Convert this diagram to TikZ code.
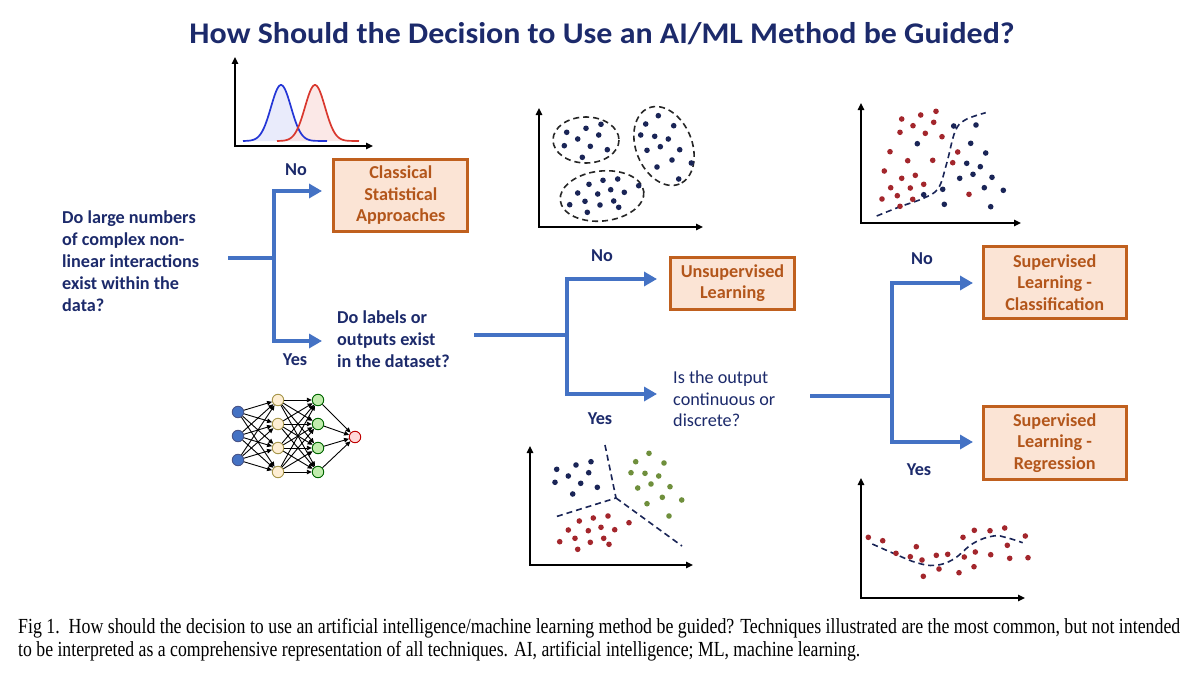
\documentclass[tikz,border=0pt]{standalone}
\usepackage{fontspec}
\usepackage{graphicx}
\newfontfamily\carl{Carlito}
\newfontfamily\capf{Liberation Serif}
\usetikzlibrary{arrows.meta}
\definecolor{tnavy}{HTML}{1C2A6B}
\definecolor{fblue}{HTML}{4472C4}
\definecolor{bbrown}{HTML}{C0601E}
\definecolor{bfill}{HTML}{FBE4D5}
\definecolor{btext}{HTML}{B3561B}
\definecolor{dnavy}{HTML}{1A2557}
\definecolor{dred}{HTML}{A3262C}
\definecolor{dgreen}{HTML}{6F8F3C}
\definecolor{cblue}{HTML}{2436D6}
\definecolor{cred}{HTML}{D9382E}
\begin{document}
\begin{tikzpicture}[x=1pt,y=-1pt,
  flow/.style={draw=fblue, line width=4pt, -{Triangle[length=13pt,width=14pt]}},
  flowline/.style={draw=fblue, line width=4pt},
  qtext/.style={font=\carl\bfseries\fontsize{18.2}{22}\selectfont, text=tnavy, align=left, anchor=north west, inner sep=0pt},
  qplain/.style={font=\carl\fontsize{18.2}{21.5}\selectfont, text=tnavy, align=left, anchor=north west, inner sep=0pt},
  lbl/.style={font=\carl\bfseries\fontsize{18.2}{21}\selectfont, text=tnavy, inner sep=0pt},
  outbox/.style={draw=bbrown, fill=bfill, line width=3pt, font=\carl\bfseries\fontsize{18.2}{21.5}\selectfont, text=btext, align=center, inner sep=0pt},
  axis/.style={line width=1.5pt, {Triangle[length=7pt,width=6.5pt]}-{Triangle[length=7pt,width=6.5pt]}},
  dashln/.style={line width=1.6pt, dash pattern=on 6pt off 4pt},
  nn/.style={circle, minimum size=11.5pt, inner sep=0pt, line width=0.9pt},
  nnedge/.style={line width=0.9pt, -{Triangle[length=5pt,width=4.5pt]}},
  dotn/.style={fill=dnavy},
  dotr/.style={fill=dred},
  dotg/.style={fill=dgreen}]
\useasboundingbox[fill=white] (0,0) rectangle (1200,685);

% title
\node[font=\carl\bfseries\fontsize{30}{36}\selectfont, text=tnavy, inner sep=0pt] (title) at (602,34) {\resizebox{825pt}{\height}{How Should the Decision to Use an AI/ML Method be Guided?}};

% ---------- distribution plot
\fill[cblue!10] (243,141) -- plot[domain=246:316,samples=60] (\x,{141-56*exp(-((\x-281)/10)^2/2)}) -- (327,141) -- cycle;
\fill[cred!14, opacity=0.8] (277,141) -- plot[domain=280:350,samples=60] (\x,{141-56*exp(-((\x-315)/10)^2/2)}) -- (359,141) -- cycle;
\draw[cblue, line width=1.7pt] (243,141) -- plot[domain=246:316,samples=60] (\x,{141-56*exp(-((\x-281)/10)^2/2)}) -- (327,141);
\draw[cred, line width=1.7pt] (277,141) -- plot[domain=280:350,samples=60] (\x,{141-56*exp(-((\x-315)/10)^2/2)}) -- (359,141);
\draw[axis] (235,57) -- (235,146) -- (373,146);

% ---------- neural net
\node[nn, fill=fblue, draw=tnavy!80] (i1) at (238,412) {};
\node[nn, fill=fblue, draw=tnavy!80] (i2) at (238,436) {};
\node[nn, fill=fblue, draw=tnavy!80] (i3) at (238,460) {};
\foreach \k/\yy in {1/400,2/424,3/448,4/472}{
  \node[nn, fill=yellow!20!orange!15!white, draw=black!45!yellow!70!brown] (h\k) at (278,\yy) {};
  \node[nn, fill=green!20!white!85!olive, draw=green!40!black] (g\k) at (318,\yy) {};
}
\node[nn, fill=red!15, draw=red!75!black] (o) at (355,437) {};
\foreach \a in {1,2,3}{\foreach \b in {1,2,3,4}{\draw[nnedge] (i\a) -- (h\b);}}
\foreach \a in {1,2,3,4}{\foreach \b in {1,2,3,4}{\draw[nnedge] (h\a) -- (g\b);}}
\foreach \a in {1,2,3,4}{\draw[nnedge] (g\a) -- (o);}

% ---------- cluster plot
\draw[axis] (539,108) -- (539,227) -- (703,227);
\draw[dashln, black!85] (586,140) ellipse [x radius=33, y radius=23];
\draw[dashln, black!85, rotate around={-68:(664,146)}] (664,146) ellipse [x radius=41, y radius=28];
\draw[dashln, black!85, rotate around={6:(602,196)}] (602,196) ellipse [x radius=42, y radius=25];
\foreach \x/\y in {566.7/132.3,586/128.3,601/124.3,577.7/139,598.7/135,564.3/145.7,590.3/146.3,607.3/149.7,582.3/157.3,
658.3/115.7,645.7/124,673.7/125.7,640.7/135,654.7/136.3,668.3/139,647/150.3,660.3/146.7,679.7/149.7,672/160,691.3/163,657/167,678.7/179,
589/184.3,603/180.3,617.7/179,638.7/185.7,577.7/193,597.7/194,610.7/189.7,624.3/192.3,569.7/204.7,585/201.3,600/205,613.7/201,587.3/212.3,618.7/207.3}
  \fill[dotn] (\x,\y) circle[radius=2.8pt];

% ---------- partition plot
\draw[axis] (530,446) -- (530,565) -- (693,565);
\coordinate (pc) at (616,498);
\draw[dashln, dnavy] (605,445) -- (pc) -- (555,517);
\draw[dashln, dnavy] (pc) -- (682,546);
\foreach \x/\y in {556.7/469.3,576/465,591/461.7,568.3/476,588.7/472.7,555/482.3,580.7/483.3,597.3/487.3,572.7/494}
  \fill[dotn] (\x,\y) circle[radius=2.8pt];
\foreach \x/\y in {649/453.3,635.7/461.7,664/463,631/472.7,645/473.3,658.7/476,637.7/488,651/484,670/486.7,662.3/497.3,681.7/500,647/503.7,669/516}
  \fill[dotg] (\x,\y) circle[radius=2.8pt];
\foreach \x/\y in {579.3/521,593.3/518,608/516,629/522.7,568.3/530,588.3/530.7,601/527.3,614.7/529.7,559.7/541.7,575/538.3,590.3/542.3,603.7/538.3,577.7/549.3,609/544.3}
  \fill[dotr] (\x,\y) circle[radius=2.8pt];

% ---------- classification plot
\draw[axis] (861,103) -- (861,223) -- (1021,223);
\draw[dashln, dnavy] plot[smooth, tension=0.6] coordinates {(876.7,216) (900,206.7) (923.3,198.3) (938.3,188.3) (946.7,163.3) (955,131.7) (965,120) (985.7,112.7)};
\foreach \x/\y in {901.7/119,920.7/115,936/111.3,913/125.7,933.7/122.3,900/132.3,925.3/133.3,942/136.7,890/151.7,907.7/160.7,932.7/160.3,957.7/152,952.7/162.7,884.3/171,901.7/178.3,915.3/175.3,890.7/187.7,910.3/188,923.7/184.3,882/199,897.3/195.7,912.7/199.3,900/206.3,969/194.3}
  \fill[dotr] (\x,\y) circle[radius=2.8pt];
\foreach \x/\y in {953.7/126,976/125,917.3/143.7,970.7/143.3,985.7/153,966.7/163.3,980.3/166.7,959.7/178.3,973/174.3,992/177.3,942.7/189.3,984.3/187.7,1003.3/190.3,923.7/194.7,944.3/204.3,990.7/206.7}
  \fill[dotn] (\x,\y) circle[radius=2.8pt];

% ---------- regression plot
\draw[axis] (861,478) -- (861,598) -- (1025,598);
\draw[dashln, dnavy] plot[smooth, tension=0.7] coordinates {(872.3,544) (895,554) (916.7,562.7) (935,565.3) (953.3,559.3) (973.3,543.3) (993.3,536) (1006.7,537.7) (1022.7,542.7)};
\foreach \x/\y in {868.3/537.3,882.7/540.7,896/553.3,910.3/556.7,916.3/546.7,922/560,923.3/576.3,936.3/555.3,939/569,947.7/554.3,959/572.7,963/537.3,964.3/557,974.3/530.3,975.3/552,974/566.7,990/530.7,990.7/554.7,1004.7/528,1007.3/545.3,1009.7/558.3,1025.3/536,1028/557.7}
  \fill[dotr] (\x,\y) circle[radius=2.8pt];

% ---------- flow texts
\node[qtext] (q1) at (62,211) {Do large numbers\\of complex non-\\linear interactions\\exist within the\\data?};
\node[qtext] (q2) at (337,311) {Do labels or\\outputs exist\\in the dataset?};
\node[qplain] (q3) at (673,371) {Is the output\\continuous or\\discrete?};

\node[lbl] (no1) at (296,170) {No};
\node[lbl] (yes1) at (295,360) {Yes};
\node[lbl] (no2) at (602,256) {No};
\node[lbl] (yes2) at (600,419) {Yes};
\node[lbl] (no3) at (922,259) {No};
\node[lbl] (yes3) at (919,470) {Yes};

\node[outbox, minimum width=134pt, minimum height=71.5pt] (c1) at (400.8,195.5) {Classical\\Statistical\\Approaches};
\node[outbox, minimum width=123.5pt, minimum height=51.7pt] (c2) at (732.5,283.3) {Unsupervised\\Learning};
\node[outbox, minimum width=143pt, minimum height=72.5pt] (c3) at (1054.7,282.3) {Supervised\\Learning -\\Classification};
\node[outbox, minimum width=143pt, minimum height=72.5pt] (c4) at (1054.7,442.8) {Supervised\\Learning -\\Regression};

% ---------- connectors
\coordinate (a1) at (228,257.5);
\coordinate (j1) at (274,257.5);
\coordinate (n1) at (322,191);
\coordinate (y1) at (322,341);
\draw[flowline] (a1) -- (j1);
\draw[flow] (j1) |- (n1);
\draw[flow] (j1) |- (y1);

\coordinate (a2) at (474,334.5);
\coordinate (j2) at (567,334.5);
\coordinate (n2) at (657,279);
\coordinate (y2) at (657,394);
\draw[flowline] (a2) -- (j2);
\draw[flow] (j2) |- (n2);
\draw[flow] (j2) |- (y2);

\coordinate (a3) at (810,396);
\coordinate (j3) at (892,396);
\coordinate (n3) at (973,283);
\coordinate (y3) at (973,442);
\draw[flowline] (a3) -- (j3);
\draw[flow] (j3) |- (n3);
\draw[flow] (j3) |- (y3);

% ---------- caption
\node[anchor=west, inner sep=0pt, font=\capf\fontsize{21.5}{24}\selectfont] (cap1) at (18,628) {\resizebox{1162pt}{\height}{Fig 1.\ \ How should the decision to use an artificial intelligence/machine learning method be guided? Techniques illustrated are the most common, but not intended}};
\node[anchor=west, inner sep=0pt, font=\capf\fontsize{21.5}{24}\selectfont] (cap2) at (18,651) {\resizebox{842pt}{\height}{to be interpreted as a comprehensive representation of all techniques. AI, artificial intelligence; ML, machine learning.}};
\end{tikzpicture}
\end{document}
